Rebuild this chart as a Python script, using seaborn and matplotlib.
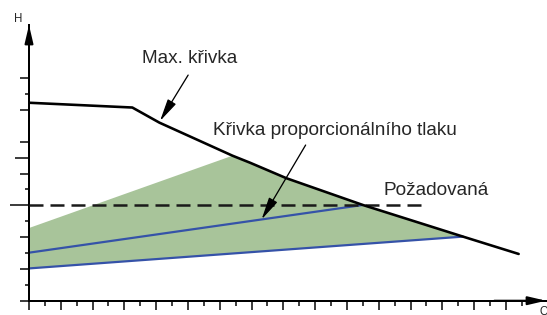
import numpy as np
import pandas as pd
import matplotlib
matplotlib.use('Agg')
import matplotlib.pyplot as plt
import seaborn as sns

# Max. curve of the pump (Q, H in tick units)
q_max = [0, 6.5, 8.2, 12.8, 13.9, 16.2, 21.0, 27.3, 30.8]
h_max = [12.45, 12.15, 11.2, 9.12, 8.68, 7.70, 6.02, 4.03, 2.94]

# proportional pressure curves
q_prop_hi = [0, 21.0]
h_prop_hi = [3.02, 6.02]
q_prop_lo = [0, 27.3]
h_prop_lo = [2.03, 4.03]

# required head (dashed)
q_req = [0, 24.7]
h_req = [6.0, 6.0]

# upper edge of the green area, then it follows the max. curve
q_area_top = [0, 12.8]
h_area_top = [4.57, 9.12]

x_major = list(range(0, 31, 2))
x_minor = list(range(1, 32, 2))
y_major = [0, 2, 4, 6, 8, 9, 10, 12, 14]
y_minor = [1, 3, 5, 7, 13]
y_long = {6: 19, 9: 14}

GREEN = '#a8c49a'
BLUE = '#3552a8'

sns.set_theme(style='white')
plt.rcParams['font.family'] = ['Liberation Sans', 'DejaVu Sans']

fig = plt.figure(figsize=(547 / 72, 315 / 72), dpi=72)
ax = fig.add_axes([29 / 547, 14.3 / 315, 517 / 547, 275.7 / 315])
ax.set_xlim(0, 32.52)
ax.set_ylim(0, 17.34)

# green operating area
qm = np.array(q_max)
hm = np.array(h_max)
sel = (qm >= q_area_top[-1]) & (qm <= q_prop_lo[-1])
poly_q = q_area_top + list(qm[sel]) + q_prop_lo[::-1]
poly_h = h_area_top + list(hm[sel]) + h_prop_lo[::-1]
ax.fill(poly_q, poly_h, color=GREEN, lw=0, zorder=1)

sns.lineplot(x=q_prop_hi, y=h_prop_hi, color=BLUE, lw=2.2, ax=ax, zorder=2)
sns.lineplot(x=q_prop_lo, y=h_prop_lo, color=BLUE, lw=2.2, ax=ax, zorder=2)
sns.lineplot(x=q_req, y=h_req, color='#1a1a1a', lw=2.5,
             linestyle=(0, (5.6, 2.8)), ax=ax, zorder=3)
sns.lineplot(x=q_max, y=h_max, color='black', lw=2.6, ax=ax, zorder=4)

# axes as arrows
for s in ['top', 'right']:
    ax.spines[s].set_visible(False)
for s in ['left', 'bottom']:
    ax.spines[s].set_linewidth(2)
    ax.spines[s].set_color('black')
ax.annotate('', xy=(0, 1), xytext=(0, 0.9), xycoords='axes fraction',
            arrowprops=dict(arrowstyle='-|>,head_length=1.5,head_width=0.35',
                            mutation_scale=10, lw=2, color='black',
                            shrinkA=0, shrinkB=0))
ax.annotate('', xy=(1, 0), xytext=(0.9, 0), xycoords='axes fraction',
            arrowprops=dict(arrowstyle='-|>,head_length=1.5,head_width=0.35',
                            mutation_scale=10, lw=2, color='black',
                            shrinkA=0, shrinkB=0))

ax.set_xticks(x_major)
ax.set_xticks(x_minor, minor=True)
ax.set_yticks(y_major)
ax.set_yticks(y_minor, minor=True)
ax.tick_params(which='major', direction='out', length=9, width=1.5,
               color='black', labelbottom=False, labelleft=False,
               bottom=True, left=True)
ax.tick_params(which='minor', direction='out', length=4.5, width=1.5,
               color='black', bottom=True, left=True)
for val, tk in zip(y_major, ax.yaxis.get_major_ticks()):
    if val in y_long:
        tk.tick1line.set_markersize(y_long[val])

ax.text(-0.69, 17.72, 'H', fontsize=11.5, ha='center', va='center',
        clip_on=False)
ax.text(32.1, -0.33, 'Q', fontsize=11.5, ha='left', va='top', clip_on=False)

arrow_kw = dict(arrowstyle='-|>,head_length=1.9,head_width=0.4',
                mutation_scale=10, lw=1.3, color='black',
                shrinkA=0, shrinkB=0)
ax.text(7.08, 14.93, 'Max. křivka', fontsize=19, va='baseline')
ax.annotate('', xy=(8.24, 11.3), xytext=(10.01, 14.19), arrowprops=arrow_kw)
ax.text(11.57, 10.42, 'Křivka proporcionálního tlaku', fontsize=19,
        va='baseline')
ax.annotate('', xy=(14.63, 5.11), xytext=(17.4, 9.79), arrowprops=arrow_kw)
ax.text(22.3, 6.65, 'Požadovaná', fontsize=19, va='baseline')

fig.savefig('out.png', dpi=72)
